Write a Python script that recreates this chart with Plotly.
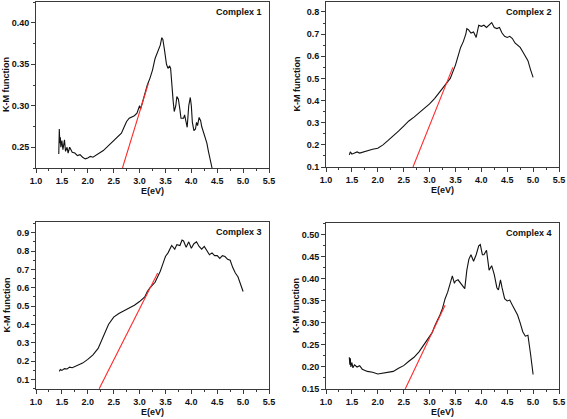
import plotly.graph_objects as go

# ---------------- data ----------------
x1 = [1.44, 1.45, 1.46, 1.47, 1.48, 1.50, 1.52, 1.55, 1.57, 1.60, 1.62, 1.65, 1.70, 1.75, 1.80, 1.85,
      1.90, 1.95, 2.00, 2.05, 2.10, 2.15, 2.20, 2.30, 2.40, 2.50, 2.60, 2.65, 2.70, 2.75, 2.80, 2.90,
      2.95, 3.00, 3.02, 3.05, 3.10, 3.15, 3.20, 3.25, 3.30, 3.35, 3.40, 3.43, 3.45, 3.48, 3.50, 3.52,
      3.55, 3.58, 3.60, 3.62, 3.65, 3.67, 3.70, 3.72, 3.75, 3.78, 3.80, 3.85, 3.87, 3.90, 3.92, 3.95,
      3.98, 4.00, 4.02, 4.05, 4.08, 4.10, 4.12, 4.15, 4.18, 4.20, 4.25, 4.30, 4.33, 4.36, 4.38, 4.40]
y1 = [0.242, 0.272, 0.255, 0.262, 0.250, 0.258, 0.247, 0.259, 0.245, 0.250, 0.243, 0.250, 0.244, 0.243,
      0.240, 0.241, 0.238, 0.236, 0.237, 0.239, 0.238, 0.240, 0.242, 0.246, 0.252, 0.258, 0.263, 0.267,
      0.274, 0.281, 0.285, 0.288, 0.291, 0.300, 0.296, 0.303, 0.314, 0.325, 0.333, 0.343, 0.357, 0.366,
      0.373, 0.382, 0.380, 0.368, 0.355, 0.350, 0.345, 0.348, 0.345, 0.325, 0.305, 0.293, 0.300, 0.311,
      0.308, 0.295, 0.285, 0.285, 0.289, 0.280, 0.274, 0.300, 0.310, 0.300, 0.280, 0.270, 0.272, 0.280,
      0.276, 0.286, 0.282, 0.275, 0.265, 0.255, 0.245, 0.235, 0.232, 0.225]
fit1_x = [2.67, 3.17]
fit1_y = [0.225, 0.327]

x2 = [1.45, 1.47, 1.50, 1.55, 1.60, 1.65, 1.70, 1.80, 1.90, 2.00, 2.10, 2.20, 2.30, 2.40, 2.50, 2.60,
      2.70, 2.80, 2.90, 3.00, 3.10, 3.20, 3.30, 3.40, 3.50, 3.55, 3.60, 3.65, 3.70, 3.72, 3.75, 3.80,
      3.85, 3.90, 3.95, 4.00, 4.05, 4.10, 4.15, 4.20, 4.25, 4.30, 4.35, 4.40, 4.45, 4.50, 4.55, 4.60,
      4.65, 4.70, 4.75, 4.80, 4.85, 4.90, 4.95, 5.00]
y2 = [0.155, 0.168, 0.158, 0.162, 0.168, 0.163, 0.167, 0.175, 0.180, 0.185, 0.200, 0.220, 0.240, 0.262,
      0.285, 0.308, 0.325, 0.345, 0.365, 0.385, 0.410, 0.440, 0.465, 0.500, 0.560, 0.600, 0.640, 0.665,
      0.700, 0.725, 0.720, 0.705, 0.710, 0.685, 0.740, 0.735, 0.740, 0.730, 0.740, 0.752, 0.730, 0.725,
      0.730, 0.705, 0.690, 0.685, 0.690, 0.680, 0.660, 0.650, 0.640, 0.620, 0.600, 0.580, 0.540, 0.505]
fit2_x = [2.68, 3.45]
fit2_y = [0.10, 0.55]

x3 = [1.45, 1.47, 1.50, 1.55, 1.60, 1.65, 1.70, 1.80, 1.90, 2.00, 2.10, 2.20, 2.30, 2.40, 2.50, 2.60,
      2.70, 2.80, 2.90, 3.00, 3.10, 3.15, 3.20, 3.30, 3.40, 3.45, 3.50, 3.55, 3.60, 3.62, 3.68, 3.72,
      3.78, 3.82, 3.85, 3.90, 3.95, 4.00, 4.05, 4.10, 4.15, 4.20, 4.25, 4.30, 4.35, 4.40, 4.45, 4.50,
      4.55, 4.60, 4.65, 4.70, 4.75, 4.80, 4.85, 4.90, 4.95, 5.00]
y3 = [0.145, 0.155, 0.150, 0.160, 0.158, 0.168, 0.165, 0.178, 0.190, 0.210, 0.235, 0.270, 0.340, 0.400,
      0.440, 0.460, 0.475, 0.490, 0.505, 0.525, 0.550, 0.580, 0.600, 0.630, 0.690, 0.730, 0.770, 0.790,
      0.815, 0.830, 0.810, 0.835, 0.830, 0.860, 0.855, 0.820, 0.850, 0.815, 0.840, 0.850, 0.825, 0.810,
      0.825, 0.800, 0.780, 0.790, 0.775, 0.775, 0.760, 0.775, 0.770, 0.755, 0.750, 0.710, 0.680, 0.660,
      0.620, 0.580]
fit3_x = [2.22, 3.35]
fit3_y = [0.05, 0.68]

x4 = [1.45, 1.46, 1.47, 1.48, 1.50, 1.52, 1.55, 1.60, 1.65, 1.70, 1.80, 1.90, 2.00, 2.10, 2.20, 2.30,
      2.40, 2.50, 2.60, 2.70, 2.80, 2.90, 3.00, 3.05, 3.10, 3.15, 3.20, 3.25, 3.30, 3.35, 3.40, 3.44,
      3.48, 3.50, 3.55, 3.60, 3.65, 3.68, 3.72, 3.76, 3.80, 3.85, 3.90, 3.95, 3.98, 4.02, 4.05, 4.10,
      4.15, 4.20, 4.25, 4.30, 4.33, 4.37, 4.40, 4.45, 4.50, 4.55, 4.60, 4.65, 4.70, 4.75, 4.80, 4.85,
      4.90, 4.95, 5.00]
y4 = [0.222, 0.205, 0.220, 0.200, 0.210, 0.198, 0.205, 0.200, 0.203, 0.195, 0.190, 0.188, 0.184, 0.186,
      0.188, 0.190, 0.197, 0.203, 0.213, 0.222, 0.235, 0.252, 0.268, 0.278, 0.293, 0.305, 0.318, 0.333,
      0.355, 0.370, 0.390, 0.407, 0.390, 0.395, 0.398, 0.390, 0.380, 0.378, 0.420, 0.445, 0.455, 0.440,
      0.455, 0.475, 0.478, 0.455, 0.455, 0.465, 0.420, 0.430, 0.410, 0.380, 0.375, 0.398, 0.380, 0.355,
      0.350, 0.352, 0.340, 0.330, 0.318, 0.300, 0.280, 0.270, 0.272, 0.230, 0.183]
fit4_x = [2.53, 3.30]
fit4_y = [0.15, 0.34]

labels = ["Complex 1", "Complex 2", "Complex 3", "Complex 4"]
x_title = "E(eV)"
y_title = "K-M function"

# ---------------- figure ----------------
W, H = 567, 419
FONT = "Liberation Sans"
AX = "#3a3a3a"

panels = [
    dict(x=x1, y=y1, fx=fit1_x, fy=fit1_y, xd=(36, 269), yd=(2, 168), yr=(0.225, 0.425), dt=0.05, fmt=".2f"),
    dict(x=x2, y=y2, fx=fit2_x, fy=fit2_y, xd=(326, 559), yd=(2, 167), yr=(0.10, 0.845), dt=0.1, fmt=".1f"),
    dict(x=x3, y=y3, fx=fit3_x, fy=fit3_y, xd=(36, 269), yd=(222, 389), yr=(0.049, 0.958), dt=0.1, fmt=".1f"),
    dict(x=x4, y=y4, fx=fit4_x, fy=fit4_y, xd=(326, 559), yd=(223, 389), yr=(0.15, 0.527), dt=0.05, fmt=".2f"),
]

fig = go.Figure()
layout = {}
annotations = []
for i, p in enumerate(panels):
    n = "" if i == 0 else str(i + 1)
    xa, ya = "x" + n, "y" + n
    fig.add_trace(go.Scatter(x=p["x"], y=p["y"], mode="lines", xaxis=xa, yaxis=ya,
                             line=dict(color="#111111", width=1.1), showlegend=False))
    fig.add_trace(go.Scatter(x=p["fx"], y=p["fy"], mode="lines", xaxis=xa, yaxis=ya,
                             line=dict(color="#ff2a2a", width=1.1), showlegend=False))
    xdom = [p["xd"][0] / W, p["xd"][1] / W]
    ydom = [1 - p["yd"][1] / H, 1 - p["yd"][0] / H]
    common = dict(showline=True, linecolor=AX, linewidth=1, mirror=True, showgrid=False,
                  zeroline=False, automargin=False, ticks="outside", ticklen=4, tickwidth=1, tickcolor=AX,
                  tickfont=dict(family=FONT, size=9, color="#111", weight="bold"))
    layout["xaxis" + n] = dict(common, domain=xdom, anchor=ya, range=[1.0, 5.5], tick0=1.0, dtick=0.5,
                               tickformat=".1f",
                               minor=dict(ticks="outside", ticklen=2, tickcolor=AX, dtick=0.25, tick0=1.0))
    layout["yaxis" + n] = dict(common, domain=ydom, anchor=xa, range=list(p["yr"]), tick0=0, dtick=p["dt"],
                               tickformat=p["fmt"],
                               minor=dict(ticks="outside", ticklen=2, tickcolor=AX, dtick=p["dt"] / 2, tick0=0))
    fnt = dict(family=FONT, size=9, color="#111", weight="bold")
    annotations.append(dict(text=labels[i], xref="paper", yref="paper",
                            x=(p["xd"][1] - 5) / W, y=1 - (p["yd"][0] + 10) / H,
                            xanchor="right", yanchor="middle", showarrow=False, font=fnt))
    annotations.append(dict(text=x_title, xref="paper", yref="paper",
                            x=(p["xd"][0] + p["xd"][1]) / 2 / W, y=1 - (p["yd"][1] + 23) / H,
                            xanchor="center", yanchor="middle", showarrow=False, font=fnt))
    annotations.append(dict(text=y_title, xref="paper", yref="paper", textangle=-90,
                            x=(p["xd"][0] - 30) / W, y=1 - (p["yd"][0] + p["yd"][1]) / 2 / H,
                            xanchor="center", yanchor="middle", showarrow=False, font=fnt))

fig.update_layout(**layout)
fig.update_layout(template="none", width=W, height=H, margin=dict(l=0, r=0, t=0, b=0),
                  paper_bgcolor="white", plot_bgcolor="white", annotations=annotations)
fig.write_html("out.html", config={"displayModeBar": False},
               post_script="document.body.style.margin='0';document.body.style.overflow='hidden';")
